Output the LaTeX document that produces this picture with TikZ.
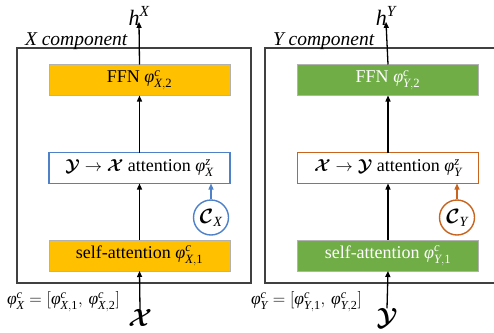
\documentclass[tikz,border=0pt]{standalone}
\usepackage{amsmath}
\usepackage{fontspec}
\setmainfont{Liberation Serif}
\usetikzlibrary{arrows.meta}
\definecolor{ffnorange}{HTML}{FFC000}
\definecolor{ffngreen}{HTML}{70AD47}
\definecolor{attblue}{HTML}{4F81C9}
\definecolor{attorange}{HTML}{C8641E}
\definecolor{outline}{HTML}{404040}
\newcommand{\vph}{\textit{φ}}
\newcommand{\ti}[1]{\textit{#1}}
\newcommand{\tr}[1]{\textrm{#1}}
\tikzset{
  outerbox/.style={draw=outline, line width=1.2pt, minimum width=234pt, minimum height=235pt, inner sep=0pt, outer sep=0pt},
  blockbox/.style={minimum width=181pt, minimum height=31pt, inner sep=0pt, outer sep=0pt, font=\fontsize{18}{20}\selectfont},
  orangeblk/.style={blockbox, fill=ffnorange, draw=black!30, line width=0.6pt},
  greenblk/.style={blockbox, fill=ffngreen, draw=black!30, line width=0.6pt, text=white},
  attbox/.style={blockbox, fill=white, line width=1.5pt},
  ctxcircle/.style={circle, line width=1.4pt, minimum size=35pt, inner sep=0pt, fill=white, font=\fontsize{20}{22}\selectfont},
  flow/.style={-{Triangle[length=6pt,width=5pt]}, line width=1.3pt, black},
  lbl/.style={inner sep=0pt, outer sep=0pt}
}
\begin{document}
\begin{tikzpicture}[x=1pt,y=-1pt]
\useasboundingbox (0,0) rectangle (494,332);
% ---------- X component ----------
\node[outerbox] (boxX) at (134,165.5) {};
\node[lbl, anchor=base west, font=\fontsize{19.5}{21}\selectfont\itshape] (capX) at (25,45) {X component};
\node[orangeblk] (ffnX) at (139.5,80) {FFN $\vph^{\ti{c}}_{\ti{X},\tr{2}}$};
\node[attbox, draw=attblue] (attX) at (139.5,168) {$\boldsymbol{\mathcal{Y}}\rightarrow\boldsymbol{\mathcal{X}}$ attention $\vph^{\ti{z}}_{\ti{X}}$};
\node[orangeblk] (selfX) at (139.5,255.5) {self-attention $\vph^{\ti{c}}_{\ti{X},\tr{1}}$};
\node[ctxcircle, draw=attblue] (cX) at (211,217.5) {$\boldsymbol{\mathcal{C}}_{\ti{X}}$};
\node[lbl, font=\fontsize{22}{24}\selectfont] (hX) at (139,16) {$\ti{h}^{\ti{X}}$};
\node[lbl, font=\fontsize{26}{28}\selectfont] (inX) at (140,318) {$\boldsymbol{\mathcal{X}}$};
\node[lbl, anchor=west, font=\fontsize{17.5}{19}\selectfont] (phiX) at (7,302) {$\vph^{\ti{c}}_{\ti{X}}=[\vph^{\ti{c}}_{\ti{X},\tr{1}},\,\vph^{\ti{c}}_{\ti{X},\tr{2}}]$};
\draw[flow] (inX.north) -- (selfX.south);
\draw[flow] (selfX.north) -- (attX.south);
\draw[flow] (attX.north) -- (ffnX.south);
\draw[flow] (ffnX.north) -- ([yshift=4pt]hX.south);
\draw[flow, draw=attblue, -{Triangle[length=6pt,width=5pt]}] (cX.north) -- (cX.north |- attX.south);
% ---------- Y component ----------
\node[outerbox] (boxY) at (382,165.5) {};
\node[lbl, anchor=base west, font=\fontsize{19.5}{21}\selectfont\itshape] (capY) at (273,45) {Y component};
\node[greenblk] (ffnY) at (388,80) {FFN $\vph^{\ti{c}}_{\ti{Y},\tr{2}}$};
\node[attbox, draw=attorange] (attY) at (388,168) {$\boldsymbol{\mathcal{X}}\rightarrow\boldsymbol{\mathcal{Y}}$ attention $\vph^{\ti{z}}_{\ti{Y}}$};
\node[greenblk] (selfY) at (388,255.5) {self-attention $\vph^{\ti{c}}_{\ti{Y},\tr{1}}$};
\node[ctxcircle, draw=attorange] (cY) at (457,217.5) {$\boldsymbol{\mathcal{C}}_{\ti{Y}}$};
\node[lbl, font=\fontsize{22}{24}\selectfont] (hY) at (386,16) {$\ti{h}^{\ti{Y}}$};
\node[lbl, font=\fontsize{26}{28}\selectfont] (inY) at (387,318) {$\boldsymbol{\mathcal{Y}}$};
\node[lbl, anchor=west, font=\fontsize{17.5}{19}\selectfont] (phiY) at (251,302) {$\vph^{\ti{c}}_{\ti{Y}}=[\vph^{\ti{c}}_{\ti{Y},\tr{1}},\,\vph^{\ti{c}}_{\ti{Y},\tr{2}}]$};
\draw[flow] (inY.north) -- (selfY.south);
\draw[flow] (selfY.north) -- (attY.south);
\draw[flow] (attY.north) -- (ffnY.south);
\draw[flow] (ffnY.north) -- ([yshift=4pt]hY.south);
\draw[flow, draw=attorange, -{Triangle[length=6pt,width=5pt]}] (cY.north) -- (cY.north |- attY.south);
\end{tikzpicture}
\end{document}
